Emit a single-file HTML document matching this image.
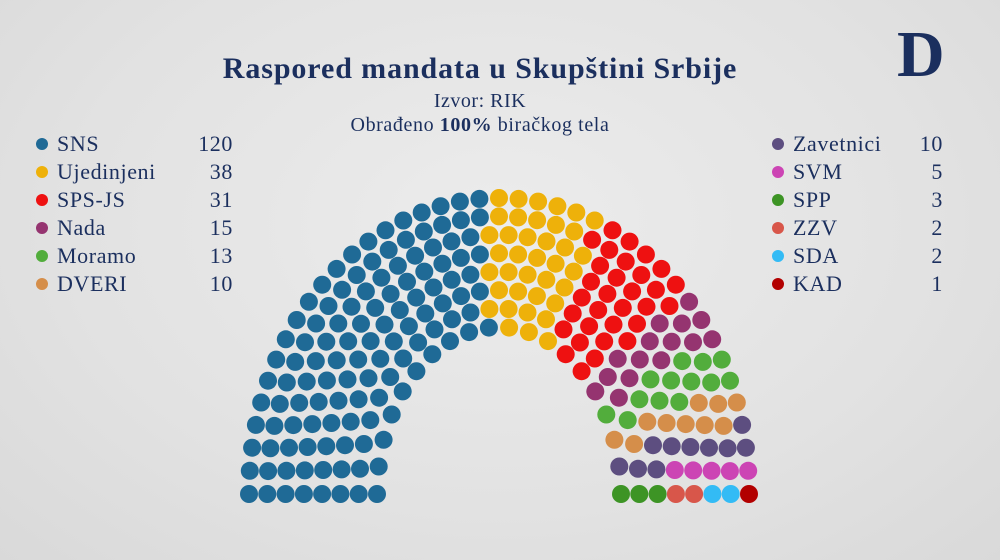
<!DOCTYPE html>
<html><head><meta charset="utf-8"><style>
body{margin:0;width:1000px;height:560px;overflow:hidden;background:radial-gradient(ellipse at 50% 40%,#ececec 0%,#e2e2e2 60%,#d9d9d9 100%);font-family:"Liberation Serif",serif;color:#1b2f5e;position:relative}
.t{position:absolute;left:0;width:960px;text-align:center;white-space:nowrap}
.lg{position:absolute;font-size:22px;line-height:28px;letter-spacing:0.6px}
.row{position:relative;height:28px}
.dot{position:absolute;width:12px;height:12px;border-radius:50%;top:8px;left:0}
.nm{position:absolute;left:21px}
.nu{position:absolute;right:0}
</style></head><body>
<div class="t" style="top:52px;font-size:30px;font-weight:bold;letter-spacing:0.9px">Raspored mandata u Skupštini Srbije</div>
<div class="t" style="top:90px;font-size:20px;letter-spacing:0.5px">Izvor: RIK</div>
<div class="t" style="top:114px;font-size:20px;letter-spacing:0.6px">Obrađeno <b>100%</b> biračkog tela</div>
<div style="position:absolute;left:897px;top:20px;font-size:66px;font-weight:bold;line-height:70px">D</div>
<div class="lg" style="left:36px;top:130px;width:197px">
<div class="row"><span class="dot" style="background:#1f6a96"></span><span class="nm">SNS</span><span class="nu">120</span></div>
<div class="row"><span class="dot" style="background:#eeb10a"></span><span class="nm">Ujedinjeni</span><span class="nu">38</span></div>
<div class="row"><span class="dot" style="background:#ee1111"></span><span class="nm">SPS-JS</span><span class="nu">31</span></div>
<div class="row"><span class="dot" style="background:#953470"></span><span class="nm">Nada</span><span class="nu">15</span></div>
<div class="row"><span class="dot" style="background:#52ad3c"></span><span class="nm">Moramo</span><span class="nu">13</span></div>
<div class="row"><span class="dot" style="background:#d58e4a"></span><span class="nm">DVERI</span><span class="nu">10</span></div>
</div>
<div class="lg" style="left:772px;top:130px;width:171px;line-height:28.4px">
<div class="row"><span class="dot" style="background:#5d4e80"></span><span class="nm">Zavetnici</span><span class="nu">10</span></div>
<div class="row"><span class="dot" style="background:#cc44b4"></span><span class="nm">SVM</span><span class="nu">5</span></div>
<div class="row"><span class="dot" style="background:#3d9425"></span><span class="nm">SPP</span><span class="nu">3</span></div>
<div class="row"><span class="dot" style="background:#d8564a"></span><span class="nm">ZZV</span><span class="nu">2</span></div>
<div class="row"><span class="dot" style="background:#33bbf5"></span><span class="nm">SDA</span><span class="nu">2</span></div>
<div class="row"><span class="dot" style="background:#b20000"></span><span class="nm">KAD</span><span class="nu">1</span></div>
</div>
<svg id="s" width="1000" height="560" style="position:absolute;left:0;top:0"></svg>
<script>
var parties=[[120,"#1f6a96"],[38,"#eeb10a"],[31,"#ee1111"],[15,"#953470"],[13,"#52ad3c"],[10,"#d58e4a"],[10,"#5d4e80"],[5,"#cc44b4"],[3,"#3d9425"],[2,"#d8564a"],[2,"#33bbf5"],[1,"#b20000"]];
var cx=499,cy=494,rows=8,rin=122,rout=250,total=250;
var radii=[],sum=0;for(var i=0;i<rows;i++){var r=rin+(rout-rin)*i/(rows-1);radii.push(r);sum+=r;}
var counts=radii.map(function(r){return Math.round(total*r/sum)});
var d=total-counts.reduce(function(a,b){return a+b},0);counts[rows-1]+=d;
var seats=[];
for(var i=0;i<rows;i++){var r=radii[i],ry=r*1.008+44,n=counts[i];
for(var j=0;j<n;j++){var a=Math.PI*(1-j/(n-1));seats.push({a:a,x:cx+r*Math.cos(a),y:cy-ry*Math.sin(a)});}}
seats.sort(function(p,q){return q.a-p.a});
var h="",k=0;parties.forEach(function(p){for(var m=0;m<p[0];m++){var s=seats[k++];h+='<circle cx="'+s.x.toFixed(1)+'" cy="'+s.y.toFixed(1)+'" r="9" fill="'+p[1]+'"/>';}});
document.getElementById("s").innerHTML=h;
</script>
</body></html>
